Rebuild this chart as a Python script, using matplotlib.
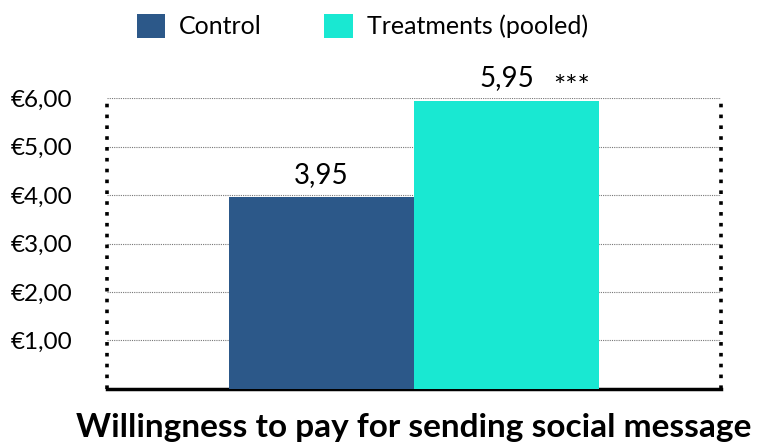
import matplotlib
matplotlib.use("Agg")
import matplotlib.pyplot as plt
from matplotlib.patches import Patch

# Willingness to pay (EUR) per group
groups = ["Control", "Treatments (pooled)"]
wtp = [3.95, 5.95]
stars = ["", "***"]
yticks = [1, 2, 3, 4, 5, 6]
colors = ["#2C5889", "#19E8D2"]

plt.rcParams["font.family"] = ["Lato", "DejaVu Sans"]

fig = plt.figure(figsize=(7.58, 4.44), dpi=100)
ax = fig.add_axes([0.141, 0.124, 0.810, 0.655])

x = list(range(len(groups)))
ax.bar(x, wtp, width=1.0, color=colors, zorder=3)

# value labels, with significance stars next to the pooled bar
for xi, v, s in zip(x, wtp, stars):
    ax.annotate(f"{v:.2f}".replace(".", ","), (xi, v), xytext=(0, 7),
                textcoords="offset points", ha="center", va="bottom",
                fontsize=20, zorder=4)
    if s:
        ax.annotate(s, (xi, v), xytext=(34, 0), textcoords="offset points",
                    ha="left", va="bottom", fontsize=21, zorder=4)

ax.set_xlim(-1.16, 2.16)
ax.set_ylim(0, 6)
ax.set_xticks([])
ax.set_yticks(yticks)
ax.set_yticklabels([f"€{t:.2f}".replace(".", ",") for t in yticks], fontsize=17.5)
ax.tick_params(axis="y", length=0, pad=25)
ax.yaxis.grid(True, color="#777777", linestyle=(0, (1, 1)), linewidth=0.8, zorder=1)

for side in ["left", "right"]:
    sp = ax.spines[side]
    sp.set_linestyle((0, (1, 2)))
    sp.set_linewidth(2.6)
    sp.set_color("black")
    sp.set_capstyle("butt")
ax.spines["top"].set_visible(False)
ax.spines["bottom"].set_linewidth(2.5)
ax.spines["bottom"].set_color("black")

ax.set_xlabel("Willingness to pay for sending social message",
              fontsize=24, fontweight="bold", labelpad=17)

handles = [Patch(facecolor=c, label=g) for c, g in zip(colors, groups)]
fig.legend(handles=handles, loc="upper center", bbox_to_anchor=(0.478, 1.02),
           ncol=2, frameon=False, fontsize=18, handlelength=1.15,
           handleheight=1.15, handletextpad=0.55, columnspacing=2.5)

fig.savefig("out.png", dpi=100)
